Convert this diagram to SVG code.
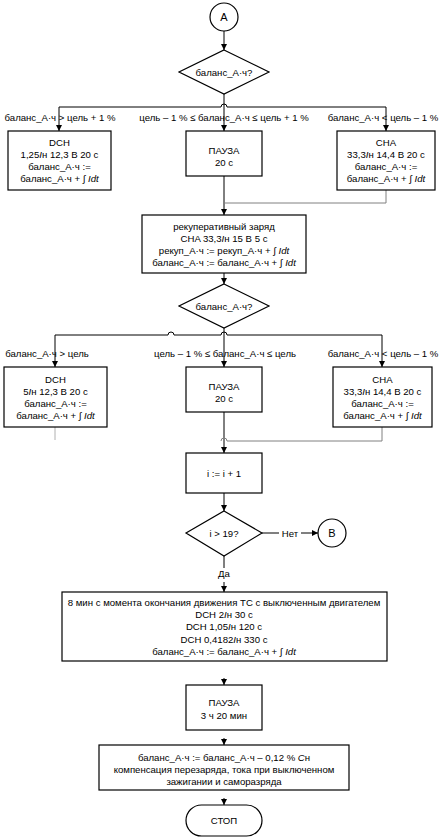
<svg xmlns="http://www.w3.org/2000/svg" width="441" height="837" viewBox="0 0 441 837">
<style>
text{font-family:"Liberation Sans",Arial,"DejaVu Sans",sans-serif;font-size:9.6px;fill:#000;text-anchor:middle}
.b{fill:#fff;stroke:#000;stroke-width:1.2}
.c{fill:none;stroke:#000;stroke-width:1}
.g{fill:none;stroke:#808080;stroke-width:1}
.lg{fill:none;stroke:#b0b0b0;stroke-width:1}
.i{font-style:italic}
</style>
<defs>
<marker id="ar" markerWidth="6" markerHeight="6" refX="6" refY="3" orient="auto" markerUnits="userSpaceOnUse">
<path d="M0,0 L6,3 L0,6 Z" fill="#000"/>
</marker>
</defs>
<g id="connectors">
<path class="c" d="M224,31 V50" marker-end="url(#ar)"/>
<path class="c" d="M224,94 V107"/>
<path class="c" d="M59,107 H221 A3,3 0 0 1 227,107 H386"/>
<path class="c" d="M59,107 V131" marker-end="url(#ar)"/>
<path class="c" d="M224,107 V131" marker-end="url(#ar)"/>
<path class="c" d="M386,107 V131" marker-end="url(#ar)"/>
<path class="c" d="M224,176 V215" marker-end="url(#ar)"/>
<path class="g" d="M386,190 V203 H224"/>
<path class="c" d="M224,273 V284" marker-end="url(#ar)"/>
<path class="c" d="M224,328 V335"/>
<path class="c" d="M55,335 H168 A3,3 0 0 1 174,335 H221 A3,3 0 0 1 227,335 H382"/>
<path class="c" d="M55,335 V367" marker-end="url(#ar)"/>
<path class="c" d="M224,335 V367" marker-end="url(#ar)"/>
<path class="c" d="M382,335 V367" marker-end="url(#ar)"/>
<path class="lg" d="M55,427 V440"/>
<path class="c" d="M224,412 V453" marker-end="url(#ar)"/>
<path class="g" d="M382,427 V441 H227 A3,3 0 0 0 221,441"/>
<path class="c" d="M224,493 V511" marker-end="url(#ar)"/>
<path class="c" d="M262,533 H279"/>
<path class="c" d="M301,533 H318" marker-end="url(#ar)"/>
<path class="c" d="M224,556 V568"/>
<path class="c" d="M224,582 V592" marker-end="url(#ar)"/>
<path class="c" d="M224,678 V685" marker-end="url(#ar)"/>
<path class="c" d="M224,738 V745" marker-end="url(#ar)"/>
<path class="c" d="M224,798 V805" marker-end="url(#ar)"/>
<text x="60" y="121">баланс_А·ч &gt; цель + 1 %</text>
<text x="224" y="121">цель – 1 % ≤ баланс_А·ч ≤ цель + 1 %</text>
<text x="383" y="121">баланс_А·ч &lt; цель – 1 %</text>
<text x="47" y="357">баланс_А·ч &gt; цель</text>
<text x="225" y="357">цель – 1 % ≤ баланс_А·ч ≤ цель</text>
<text x="383" y="357">баланс_А·ч &lt; цель – 1 %</text>
<text x="290" y="537">Нет</text>
<text x="224" y="577">Да</text>
</g>
<g id="startA">
<circle class="b" cx="224" cy="17" r="14"/>
<text x="224" y="21" style="font-size:11px">А</text>
</g>
<g id="dec1">
<polygon class="b" points="224,50 269,72 224,94 179,72"/>
<text x="224" y="76">баланс_А·ч?</text>
</g>
<g id="dch1">
<rect class="b" x="8" y="131" width="103" height="59"/>
<text x="59.5" y="146">DCH</text>
<text x="59.5" y="158">1,25<tspan class="i">I</tspan>н 12,3 В 20 с</text>
<text x="59.5" y="170">баланс_А·ч :=</text>
<text x="59.5" y="182">баланс_А·ч + ∫ <tspan class="i">Idt</tspan></text>
</g>
<g id="pause1">
<rect class="b" x="186" y="131" width="76" height="45"/>
<text x="224" y="154">ПАУЗА</text>
<text x="224" y="166">20 с</text>
</g>
<g id="cha1">
<rect class="b" x="337" y="131" width="98" height="59"/>
<text x="386" y="146">CHA</text>
<text x="386" y="158">33,3<tspan class="i">I</tspan>н 14,4 В 20 с</text>
<text x="386" y="170">баланс_А·ч :=</text>
<text x="386" y="182">баланс_А·ч + ∫ <tspan class="i">Idt</tspan></text>
</g>
<g id="recup">
<rect class="b" x="142" y="215" width="164" height="58"/>
<text x="224" y="230">рекуперативный заряд</text>
<text x="224" y="242">CHA 33,3<tspan class="i">I</tspan>н 15 В 5 с</text>
<text x="224" y="254">рекуп_А·ч := рекуп_А·ч + ∫ <tspan class="i">Idt</tspan></text>
<text x="224" y="266">баланс_А·ч := баланс_А·ч + ∫ <tspan class="i">Idt</tspan></text>
</g>
<g id="dec2">
<polygon class="b" points="224,284 269,306 224,328 179,306"/>
<text x="224" y="310">баланс_А·ч?</text>
</g>
<g id="dch2">
<rect class="b" x="4" y="367" width="103" height="60"/>
<text x="55.5" y="383">DCH</text>
<text x="55.5" y="395">5<tspan class="i">I</tspan>н 12,3 В 20 с</text>
<text x="55.5" y="407">баланс_А·ч :=</text>
<text x="55.5" y="419">баланс_А·ч + ∫ <tspan class="i">Idt</tspan></text>
</g>
<g id="pause2">
<rect class="b" x="186" y="367" width="76" height="45"/>
<text x="224" y="390">ПАУЗА</text>
<text x="224" y="402">20 с</text>
</g>
<g id="cha2">
<rect class="b" x="333" y="367" width="99" height="60"/>
<text x="382.5" y="383">CHA</text>
<text x="382.5" y="395">33,3<tspan class="i">I</tspan>н 14,4 В 20 с</text>
<text x="382.5" y="407">баланс_А·ч :=</text>
<text x="382.5" y="419">баланс_А·ч + ∫ <tspan class="i">Idt</tspan></text>
</g>
<g id="inc">
<rect class="b" x="186" y="453" width="76" height="40"/>
<text x="224" y="477">i := i + 1</text>
</g>
<g id="dec3">
<polygon class="b" points="224,511 262,533 224,556 186,533"/>
<text x="224" y="537">i &gt; 19?</text>
</g>
<g id="connB">
<circle class="b" cx="332" cy="533" r="14"/>
<text x="332" y="537" style="font-size:11px">B</text>
</g>
<g id="final">
<rect class="b" x="62" y="592" width="325" height="69"/>
<text x="224" y="606">8 мин с момента окончания движения ТС с выключенным двигателем</text>
<text x="224" y="618">DCH 2<tspan class="i">I</tspan>н 30 с</text>
<text x="224" y="630">DCH 1,05<tspan class="i">I</tspan>н 120 с</text>
<text x="224" y="643">DCH 0,4182<tspan class="i">I</tspan>н 330 с</text>
<text x="224" y="655">баланс_А·ч := баланс_А·ч + ∫ <tspan class="i">Idt</tspan></text>
</g>
<g id="pause3">
<rect class="b" x="186" y="685" width="76" height="45"/>
<text x="224" y="706">ПАУЗА</text>
<text x="224" y="719">3 ч 20 мин</text>
</g>
<g id="comp">
<rect class="b" x="99" y="745" width="250" height="45"/>
<text x="224" y="761">баланс_А·ч := баланс_А·ч – 0,12 % <tspan class="i">C</tspan>н</text>
<text x="224" y="773">компенсация перезаряда, тока при выключенном</text>
<text x="224" y="785">зажигании и саморазряда</text>
</g>
<g id="stop">
<rect class="b" x="186" y="805" width="76" height="31" rx="15.5"/>
<text x="224" y="824">СТОП</text>
</g>
</svg>
